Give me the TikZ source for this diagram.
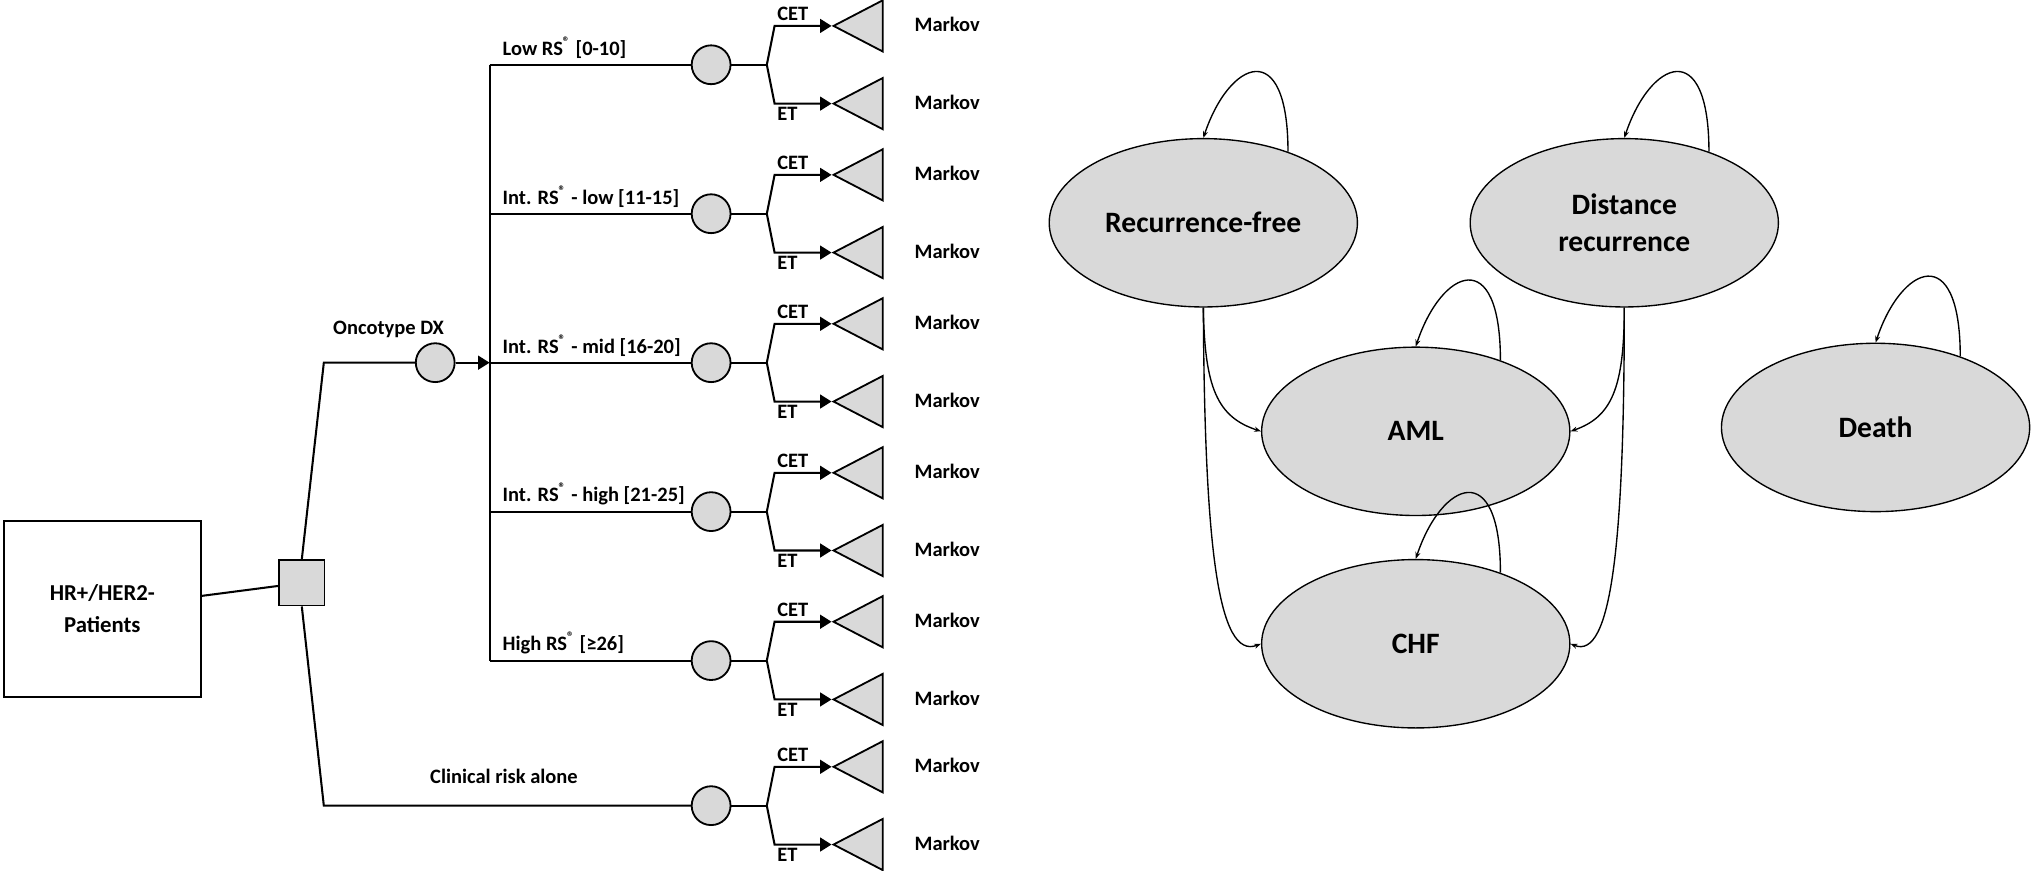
\documentclass[tikz,border=0pt]{standalone}
\usepackage{fontspec}
\setmainfont{Carlito}
\usetikzlibrary{arrows.meta,shapes.geometric,positioning}
\definecolor{nodegray}{rgb}{0.85,0.85,0.85}
\tikzset{
  chance/.style={circle,draw,fill=nodegray,minimum size=0.6cm,inner sep=0pt,line width=0.8pt},
  term/.style={isosceles triangle,shape border rotate=180,draw,fill=nodegray,isosceles triangle apex angle=55,minimum height=0.76cm,inner sep=0pt,line width=0.8pt},
  lbl/.style={font=\bfseries\fontsize{9}{10}\selectfont,inner sep=1pt},
  state/.style={ellipse,draw,fill=nodegray,minimum width=4.76cm,minimum height=2.6cm,font=\bfseries\fontsize{13}{16}\selectfont,align=center,line width=0.6pt},
  tree/.style={line width=0.9pt},
  tip/.style={-{Triangle[length=5pt,width=6pt]}},
  loop/.style={-{Stealth[length=3pt]},line width=0.6pt}
}
\begin{document}
\begin{tikzpicture}[x=0.02cm,y=-0.02cm]
  % decision tree
  \node[draw,line width=0.9pt,minimum width=3.04cm,minimum height=2.72cm,align=center,font=\bfseries\fontsize{10}{14}\selectfont] (pat) at (79,470) {HR+/HER2-\\Patients};
  \node[draw,fill=nodegray,minimum size=0.7cm,inner sep=0pt,line width=0.8pt] (dec) at (233,450) {};
  \draw[tree] (pat) -- (dec);
  \node[chance] (onco) at (336,280) {};
  \node[lbl,anchor=south] at (300,263) {Oncotype DX};
  \coordinate (split) at (378,280);
  \draw[tree] (dec.north) -- (250,280) -- (onco);
  \draw[tree,tip] (onco) -- (split);
  \draw[tree] (378,50) -- (378,510);
  \foreach \y/\name/\txt in {50/b1/Low RS\textsuperscript{®} [0-10],
                            165/b2/Int. RS\textsuperscript{®} - low [11-15],
                            280/b3/Int. RS\textsuperscript{®} - mid [16-20],
                            395/b4/Int. RS\textsuperscript{®} - high [21-25],
                            510/b5/High RS\textsuperscript{®} [≥26],
                            622/b6/{}}
  {
    \node[chance] (\name) at (549,\y) {};
    \coordinate (\name j) at (592,\y);
    \node[term,anchor=apex] (\name c) at (642,\y-30) {};
    \node[term,anchor=apex] (\name e) at (642,\y+30) {};
    \draw[tree] (\name) -- (\name j);
    \draw[tree,tip] (\name j) -- (598,\y-30) -- (\name c.apex);
    \draw[tree,tip] (\name j) -- (598,\y+30) -- (\name e.apex);
    \node[lbl,anchor=south west] at (598,\y-32) {CET};
    \node[lbl,anchor=north west] at (598,\y+31) {ET};
    \node[lbl,anchor=west] at (704,\y-31) {Markov};
    \node[lbl,anchor=west] at (704,\y+29) {Markov};
    \node[lbl,anchor=south west] at (386,\y-3) {\txt};
  }
  \draw[tree] (378,50) -- (b1);
  \draw[tree] (378,165) -- (b2);
  \draw[tree] (split) -- (b3);
  \draw[tree] (378,395) -- (b4);
  \draw[tree] (378,510) -- (b5);
  \draw[tree] (dec.south) -- (250,622) -- (b6);
  \node[lbl,anchor=south west] at (330,607) {Clinical risk alone};
  % Markov states
  \node[state] (rf) at (929,172) {Recurrence-free};
  \node[state] (dr) at (1254,172) {Distance\\recurrence};
  \node[state] (aml) at (1093,333) {AML};
  \node[state] (death) at (1448,330) {Death};
  \node[state] (chf) at (1093,497) {CHF};
  \foreach \s in {rf,dr,aml,death,chf}
    \draw[loop] (\s.40) .. controls ([shift={(0,-90)}]\s.40) and ([shift={(20,-60)}]\s.north) .. (\s.north);
  \draw[loop] (rf.south) .. controls (930,300) and (940,322) .. (aml.west);
  \draw[loop] (rf.south) .. controls (930,420) and (940,510) .. (chf.west);
  \draw[loop] (dr.south) .. controls (1254,300) and (1244,322) .. (aml.east);
  \draw[loop] (dr.south) .. controls (1254,420) and (1244,510) .. (chf.east);
  \pgfresetboundingbox
  \useasboundingbox (0,0) rectangle (1568,672);
\end{tikzpicture}
\end{document}
